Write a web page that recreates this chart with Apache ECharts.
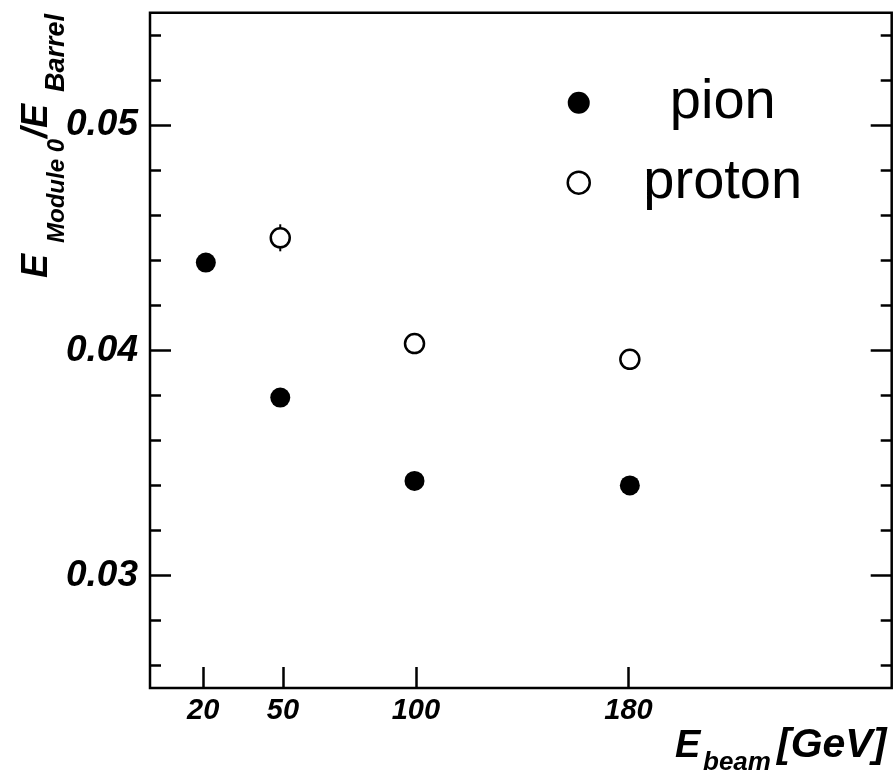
<!DOCTYPE html>
<html>
<head>
<meta charset="utf-8">
<script src="https://cdn.jsdelivr.net/npm/echarts@6/dist/echarts.min.js"></script>
<style>
html,body{margin:0;padding:0;background:#fff;}
#chart{width:895px;height:771px;}
</style>
</head>
<body>
<div id="chart"></div>
<script>
// ---- data ----
const pionX = [21, 49, 99.5, 180.5];
const pionY = [0.0439, 0.0379, 0.0342, 0.0340];
const protonX = [49, 99.5, 180.5];
const protonY = [0.0450, 0.0403, 0.0396];
const protonErr = [0.0006, 0, 0];
const xTickValues = [20, 50, 100, 180];
const yMajorValues = [0.03, 0.04, 0.05];
const yMinorValues = [0.026, 0.028, 0.032, 0.034, 0.036, 0.038, 0.042, 0.044, 0.046, 0.048, 0.052, 0.054];
const seriesNames = ['pion', 'proton'];

const FONT = 'Liberation Sans, Arial, Helvetica, sans-serif';
const chart = echarts.init(document.getElementById('chart'), null, {renderer: 'canvas'});

function yAxisDef(position, values, len, showLabel) {
  return {
    type: 'value', min: 0.025, max: 0.055, position: position,
    axisLine: {show: false},
    splitLine: {show: false},
    axisTick: {show: true, inside: true, length: len, customValues: values,
      lineStyle: {color: '#000', width: 2.5}},
    axisLabel: {show: showLabel, customValues: values, margin: 12,
      formatter: v => v.toFixed(2),
      fontFamily: FONT, fontSize: 37, fontWeight: 'bold', fontStyle: 'italic', color: '#000'}
  };
}

function txt(x, y, text, fs) {
  return {type: 'text', x: x, y: y - 0.35 * fs,
    style: {text: text, fontFamily: FONT, fontSize: fs, fontWeight: 'bold', fontStyle: 'italic',
      fill: '#000', align: 'left', verticalAlign: 'middle'}};
}

const option = {
  backgroundColor: '#fff',
  animation: false,
  grid: {left: 150, right: 3.3, top: 12.7, bottom: 83, show: true,
    borderColor: '#000', borderWidth: 2.5, backgroundColor: 'transparent'},
  xAxis: {
    type: 'value', min: 0, max: 279,
    axisLine: {show: false},
    splitLine: {show: false},
    axisTick: {show: true, inside: true, length: 21, customValues: xTickValues,
      lineStyle: {color: '#000', width: 2.5}},
    axisLabel: {customValues: xTickValues, margin: 8,
      fontFamily: FONT, fontSize: 29, fontWeight: 'bold', fontStyle: 'italic', color: '#000'}
  },
  yAxis: [
    yAxisDef('left', yMajorValues, 21, true),
    yAxisDef('left', yMinorValues, 11, false),
    yAxisDef('right', yMajorValues, 21, false),
    yAxisDef('right', yMinorValues, 11, false)
  ],
  legend: {
    data: [{name: seriesNames[0]}, {name: seriesNames[1], itemStyle: {borderWidth: 2.5, borderColor: '#000', color: '#fff'}}],
    orient: 'vertical', left: 561.5, top: 67.7, padding: 5,
    itemWidth: 22, itemHeight: 22, itemGap: 20,
    icon: 'circle',
    formatter: '{c|{name}}',
    textStyle: {fontFamily: FONT, fontSize: 56, color: '#000', lineHeight: 60,
      rich: {c: {width: 256, align: 'center', fontFamily: FONT, fontSize: 56, lineHeight: 60, color: '#000'}}}
  },
  graphic: [
    {type: 'group', x: 50, y: 278, rotation: Math.PI / 2, children: [
      txt(0, 0, 'E', 36),
      txt(35, 16, 'Module 0', 24),
      txt(140, 0, '/E', 36),
      txt(186, 16, 'Barrel', 27)
    ]},
    txt(675, 760, 'E', 38),
    txt(703, 772, 'beam', 26),
    txt(777, 760, '[GeV]', 41)
  ],
  series: [
    {
      type: 'custom', name: 'proton-err', z: 1, silent: true,
      renderItem: function (params, api) {
        const x = api.value(0), y = api.value(1), e = api.value(2);
        const a = api.coord([x, y + e]);
        const b = api.coord([x, y - e]);
        return {type: 'line', shape: {x1: a[0], y1: a[1], x2: b[0], y2: b[1]},
          style: {stroke: '#000', lineWidth: 2}};
      },
      encode: {x: 0, y: 1},
      data: protonX.map((x, i) => [x, protonY[i], protonErr[i]])
    },
    {
      type: 'scatter', name: 'pion', z: 3, symbol: 'circle', symbolSize: 20,
      itemStyle: {color: '#000', opacity: 1},
      data: pionX.map((x, i) => [x, pionY[i]])
    },
    {
      type: 'scatter', name: 'proton', z: 3, symbol: 'circle', symbolSize: 19,
      itemStyle: {color: '#fff', borderColor: '#000', borderWidth: 2.5, opacity: 1},
      data: protonX.map((x, i) => [x, protonY[i]])
    }
  ]
};
chart.setOption(option);
</script>
</body>
</html>
